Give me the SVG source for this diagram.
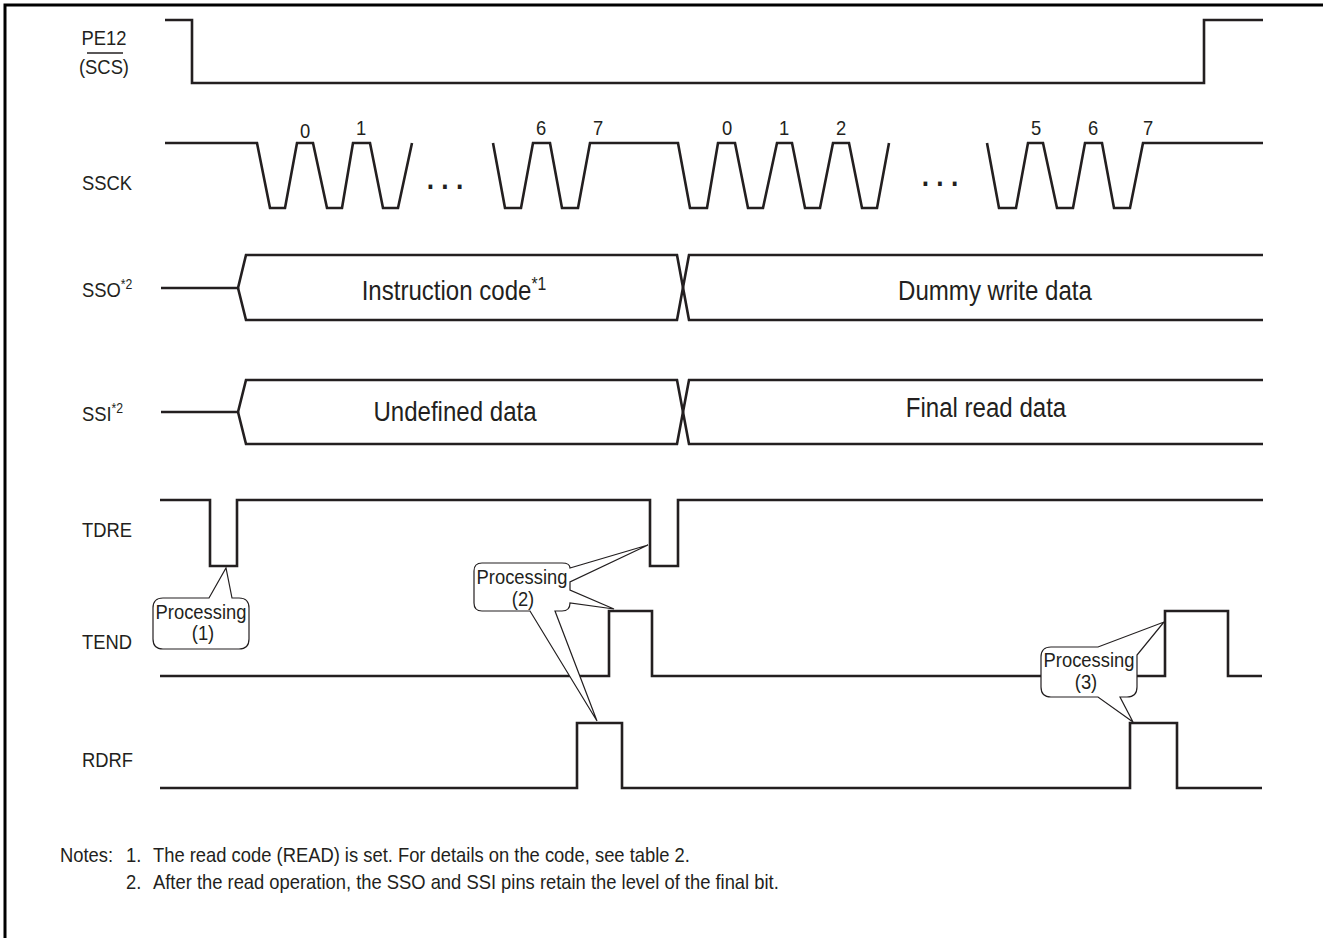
<svg xmlns="http://www.w3.org/2000/svg" width="1323" height="938" viewBox="0 0 1323 938">
<style>
text{font-family:"Liberation Sans",Arial,sans-serif;font-size:21px;fill:#231f20}
.sup{font-size:14px}
.big{font-size:27.5px}
.bsup{font-size:18px}
.dots{font-size:30px;font-weight:bold}
.w{fill:none;stroke:#231f20;stroke-width:2.6;stroke-linejoin:miter}
.c{fill:#fff;stroke:#231f20;stroke-width:1.2}
.m{text-anchor:middle}
.e{text-anchor:end}
</style>
<rect width="1323" height="938" fill="#fff"/>
<path d="M1330,5 H5 V945" fill="none" stroke="#000" stroke-width="3"/>

<g id="labels">
<text class="m" transform="translate(104,45) scale(0.875,1)">PE12</text>
<text class="m" transform="translate(104,74) scale(0.875,1)">(SCS)</text>
<line x1="87" y1="53" x2="123" y2="53" stroke="#231f20" stroke-width="1.4"/>
<text transform="translate(82,190) scale(0.875,1)">SSCK</text>
<text transform="translate(82,297) scale(0.875,1)">SSO<tspan class="sup" dy="-8">*2</tspan></text>
<text transform="translate(82,421) scale(0.875,1)">SSI<tspan class="sup" dy="-8">*2</tspan></text>
<text transform="translate(82,537) scale(0.875,1)">TDRE</text>
<text transform="translate(82,649) scale(0.875,1)">TEND</text>
<text transform="translate(82,767) scale(0.875,1)">RDRF</text>
</g>

<g id="pe12">
<path class="w" d="M165,20 H192 V83 H1204 V20 H1263"/>
</g>

<g id="ssck">
<path class="w" d="M165,143 L257,143 L270,208 L285,208 L297,143 L313,143 L327,208 L342,208 L353,143 L370,143 L383,208 L398,208 L412,143"/>
<path class="w" d="M493,143 L505,208 L521,208 L533,143 L550,143 L562,208 L578,208 L590,143 L678,143 L690,208 L707,208 L718,143 L735,143 L748,208 L763,208 L777,143 L792,143 L805,208 L820,208 L833,143 L849,143 L862,208 L877,208 L889,143"/>
<path class="w" d="M987,143 L999,208 L1016,208 L1028,143 L1043,143 L1057,208 L1073,208 L1085,143 L1102,143 L1114,208 L1130,208 L1143,143 L1263,143"/>
<text class="m" transform="translate(305,138) scale(0.875,1)">0</text>
<text class="m" transform="translate(361,135) scale(0.875,1)">1</text>
<text class="m" transform="translate(541,135) scale(0.875,1)">6</text>
<text class="m" transform="translate(598,135) scale(0.875,1)">7</text>
<text class="m" transform="translate(727,135) scale(0.875,1)">0</text>
<text class="m" transform="translate(784,135) scale(0.875,1)">1</text>
<text class="m" transform="translate(841,135) scale(0.875,1)">2</text>
<text class="m" transform="translate(1036,135) scale(0.875,1)">5</text>
<text class="m" transform="translate(1093,135) scale(0.875,1)">6</text>
<text class="m" transform="translate(1148,135) scale(0.875,1)">7</text>
<text class="m dots" transform="translate(445,189) scale(0.875,1)">. . .</text>
<text class="m dots" transform="translate(940,186) scale(0.875,1)">. . .</text>
</g>

<g id="sso">
<path class="w" d="M161,288 H238 L246,255 H677 L689,320 H1263"/>
<path class="w" d="M238,288 L246,320 H677 L689,255 H1263"/>
<text class="m big" transform="translate(454,300) scale(0.875,1)">Instruction code<tspan class="bsup" dy="-10">*1</tspan></text>
<text class="m big" transform="translate(995,300) scale(0.875,1)">Dummy write data</text>
</g>

<g id="ssi">
<path class="w" d="M161,412 H238 L246,380 H677 L689,444 H1263"/>
<path class="w" d="M238,412 L246,444 H677 L689,380 H1263"/>
<text class="m big" transform="translate(455,421) scale(0.875,1)">Undefined data</text>
<text class="m big" transform="translate(986,417) scale(0.875,1)">Final read data</text>
</g>

<g id="tdre">
<path class="w" d="M160,500 H210 V566 H237 V500 H650 V566 H678 V500 H1263"/>
</g>

<g id="tend">
<path class="w" d="M160,676 H609 V611 H652 V676 H1165 V611 H1228 V676 H1262"/>
</g>

<g id="rdrf">
<path class="w" d="M160,788 H577 V723 H622 V788 H1130 V723 H1177 V788 H1262"/>
</g>

<g id="connectors">
<g id="callout1">
<path class="c" d="M163,598 L209,598 L226,568 L232,598 L239,598 Q249,598 249,608 L249,639 Q249,649 239,649 L163,649 Q153,649 153,639 L153,608 Q153,598 163,598 Z"/>
<text class="m" transform="translate(201,619) scale(0.875,1)">Processing</text>
<text class="m" transform="translate(203,640) scale(0.875,1)">(1)</text>
</g>
<g id="callout2">
<path class="c" d="M482,563 L562,563 Q570,563 570,568 L648,545 L570,582 L570,590 L614,609 L570,603 Q570,611 562,611 L555,611 L597,721 L530,611 L482,611 Q474,611 474,603 L474,571 Q474,563 482,563 Z"/>
<text class="m" transform="translate(522,584) scale(0.875,1)">Processing</text>
<text class="m" transform="translate(523,606) scale(0.875,1)">(2)</text>
</g>
<g id="callout3">
<path class="c" d="M1051,647 L1098,647 L1164,622 L1137,655 L1137,687 Q1137,697 1127,697 L1120,697 L1133,722 L1098,697 L1051,697 Q1041,697 1041,687 L1041,657 Q1041,647 1051,647 Z"/>
<text class="m" transform="translate(1089,667) scale(0.875,1)">Processing</text>
<text class="m" transform="translate(1086,689) scale(0.875,1)">(3)</text>
</g>
</g>

<g id="notes">
<text transform="translate(60,862) scale(0.875,1)">Notes:</text>
<text transform="translate(126,862) scale(0.875,1)">1.</text>
<text transform="translate(153,862) scale(0.875,1)">The read code (READ) is set. For details on the code, see table 2.</text>
<text transform="translate(126,889) scale(0.875,1)">2.</text>
<text transform="translate(153,889) scale(0.875,1)">After the read operation, the SSO and SSI pins retain the level of the final bit.</text>
</g>
</svg>
